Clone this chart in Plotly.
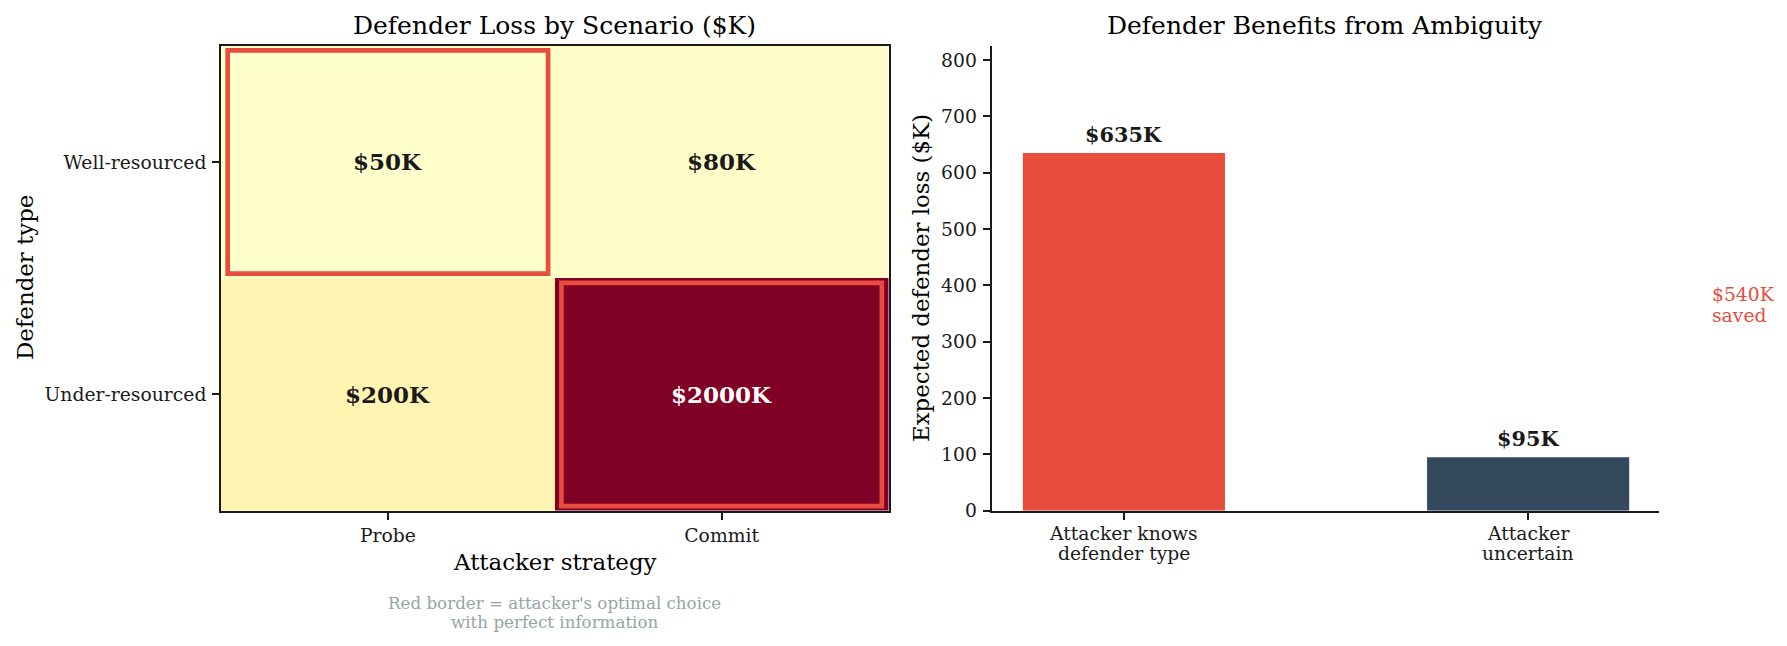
import plotly.graph_objects as go

# ---- data ----
strategies = ["Probe", "Commit"]
defender_types = ["Well-resourced", "Under-resourced"]
loss_matrix = [[50, 80], [200, 2000]]          # rows = defender type, cols = strategy
optimal_choice = [0, 1]                         # attacker's best column per defender row
bar_categories = [["Attacker knows", "defender type"], ["Attacker", "uncertain"]]
bar_values = [635, 95]
bar_colors = ["#e74c3c", "#34495e"]
y_ticks = [0, 100, 200, 300, 400, 500, 600, 700, 800]

W, H = 1787, 646
FONT = "DejaVu Serif"
INK = "#1a1a1a"

def px_x(p):
    return p / W

def px_y(p):
    return 1 - p / H

top_px, bot_px = 45.7, 510.7
left_dom = [px_x(221), px_x(888.5)]
right_dom = [px_x(991.5), px_x(1659.3)]
y_dom = [px_y(bot_px), px_y(top_px)]
x2_range = [-0.3276, 1.3245]

ylorrd = ["#ffffcc", "#ffeda0", "#fed976", "#feb24c", "#fd8d3c",
          "#fc4e2a", "#e31a1c", "#bd0026", "#800026"]
colorscale = [[i / 8, c] for i, c in enumerate(ylorrd)]
zmin = min(min(r) for r in loss_matrix)
zmax = max(max(r) for r in loss_matrix)

fig = go.Figure()

fig.add_trace(go.Heatmap(
    z=loss_matrix, x=list(range(len(strategies))), y=list(range(len(defender_types))),
    colorscale=colorscale, zmin=zmin, zmax=zmax, showscale=False,
    xaxis="x", yaxis="y", hoverinfo="skip"))

fig.add_trace(go.Bar(
    x=list(range(len(bar_values))), y=bar_values, width=0.5,
    marker=dict(color=bar_colors, line=dict(width=0)),
    xaxis="x2", yaxis="y2", hoverinfo="skip"))

annotations = []
shapes = []

# cell labels
for i, row in enumerate(loss_matrix):
    for j, v in enumerate(row):
        t = (v - zmin) / (zmax - zmin)
        annotations.append(dict(
            x=j, y=i, xref="x", yref="y", text=f"<b>${v}K</b>", showarrow=False,
            xanchor="center", yanchor="middle",
            font=dict(family=FONT, size=23, color="white" if t > 0.5 else INK)))

# red borders for optimal choices
for i, j in enumerate(optimal_choice):
    shapes.append(dict(type="rect", xref="x", yref="y",
                       x0=j - 0.48, x1=j + 0.48, y0=i - 0.48, y1=i + 0.48,
                       line=dict(color="#e74c3c", width=4.7), fillcolor="rgba(0,0,0,0)"))

# bar labels
for k, v in enumerate(bar_values):
    annotations.append(dict(
        x=k, y=v, xref="x2", yref="y2", text=f"<b>${v}K</b>", showarrow=False,
        xanchor="center", yanchor="middle", yshift=18.5,
        font=dict(family=FONT, size=20.8, color=INK)))

# bar category labels (two lines each, matplotlib-like line spacing)
for k, lines in enumerate(bar_categories):
    for n, line in enumerate(lines):
        annotations.append(dict(
            x=k, y=px_y(533.3 + n * 20.5), xref="x2", yref="paper", text=line,
            showarrow=False, xanchor="center", yanchor="middle",
            font=dict(family=FONT, size=18.75, color=INK)))

# savings note (placed right of the bar axis)
saved = bar_values[0] - bar_values[1]
note_x = 1.45
note_paper_x = right_dom[0] + (note_x - x2_range[0]) / (x2_range[1] - x2_range[0]) * (right_dom[1] - right_dom[0])
for n, line in enumerate([f"${saved}K", "saved"]):
    annotations.append(dict(
        x=note_paper_x, y=(bar_values[0] + bar_values[1]) / 2, xref="paper", yref="y2",
        text=line, showarrow=False, xanchor="left", yanchor="middle",
        yshift=10.3 - n * 20.6,
        font=dict(family=FONT, size=18.75, color="#e74c3c")))

def paper_text(x, y, text, size, color="black", angle=0):
    annotations.append(dict(x=x, y=y, xref="paper", yref="paper", text=text,
                            showarrow=False, xanchor="center", yanchor="middle",
                            align="center", textangle=angle,
                            font=dict(family=FONT, size=size, color=color)))

left_cx = (left_dom[0] + left_dom[1]) / 2
# titles
paper_text(left_cx, px_y(25), "Defender Loss by Scenario ($K)", 25)
paper_text((right_dom[0] + right_dom[1]) / 2, px_y(25), "Defender Benefits from Ambiguity", 25)
# axis titles
paper_text(left_cx, px_y(562), "Attacker strategy", 22.9)
paper_text(px_x(25), px_y(278), "Defender type", 22.9, angle=-90)
paper_text(px_x(921), px_y(278), "Expected defender loss ($K)", 22.9, angle=-90)
# footnote
paper_text(left_cx, px_y(603), "Red border = attacker's optimal choice", 16.7, "#95a5a6")
paper_text(left_cx, px_y(621.5), "with perfect information", 16.7, "#95a5a6")

axis_common = dict(ticks="outside", ticklen=7, tickwidth=1.7, tickcolor=INK,
                   showline=True, linecolor=INK, linewidth=1.7, showgrid=False,
                   zeroline=False, automargin=False,
                   tickfont=dict(family=FONT, size=18.75, color=INK))

fig.update_layout(
    width=W, height=H, margin=dict(l=0, r=0, t=0, b=0, autoexpand=False),
    paper_bgcolor="white", plot_bgcolor="white", showlegend=False,
    xaxis=dict(domain=left_dom, range=[-0.5, 1.5], tickvals=list(range(len(strategies))),
               ticktext=strategies, mirror=True, anchor="y", ticklabelstandoff=0, **axis_common),
    yaxis=dict(domain=y_dom, range=[1.5, -0.5], tickvals=list(range(len(defender_types))),
               ticktext=defender_types, mirror=True, anchor="x", ticklabelstandoff=2, **axis_common),
    xaxis2=dict(domain=right_dom, range=x2_range, tickvals=list(range(len(bar_values))),
                showticklabels=False, anchor="y2", **axis_common),
    yaxis2=dict(domain=y_dom, range=[0, bar_values[0] * 1.3], tickvals=y_ticks,
                anchor="x2", ticklabelstandoff=2, **axis_common),
    annotations=annotations, shapes=shapes,
)

fig.write_html("out.html")
